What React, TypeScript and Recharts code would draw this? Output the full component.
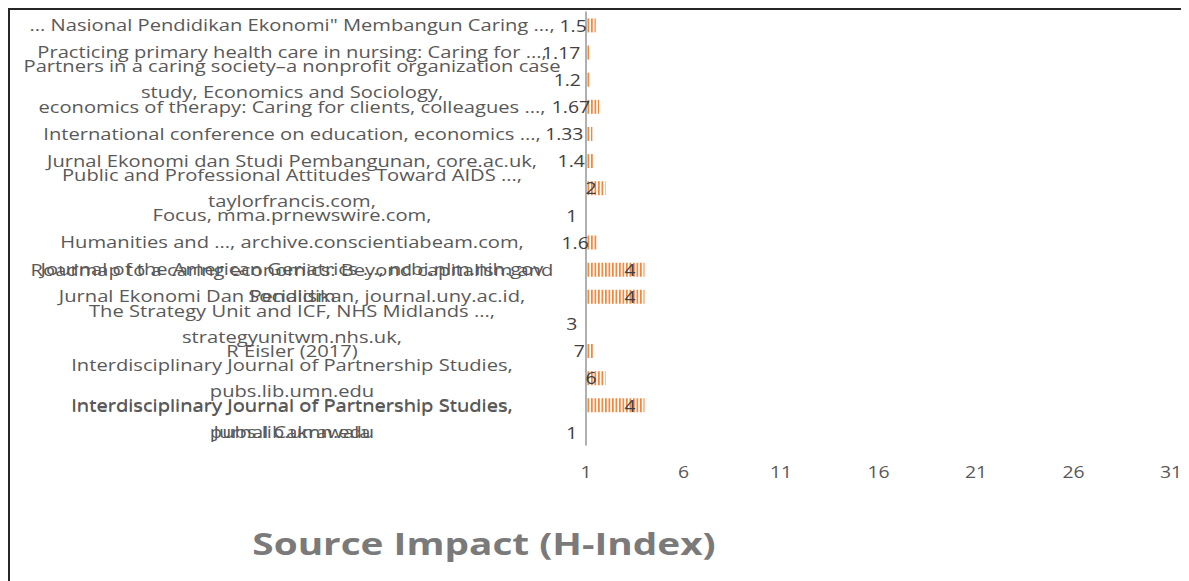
import React from 'react';
import { BarChart, Bar, XAxis, YAxis, LabelList } from 'recharts';

// ---------- data ----------
const categoryIds = ['c1', 'c2', 'c3', 'c4', 'c5', 'c6', 'c7', 'c8', 'c9', 'c10', 'c11', 'c12', 'c13', 'c14', 'c15', 'c16'];

const categoryLines: string[][] = [
  ['... Nasional Pendidikan Ekonomi" Membangun Caring ...,'],
  ['Practicing primary health care in nursing: Caring for ...,'],
  ['Partners in a caring society\u2013a nonprofit organization case', 'study, Economics and Sociology,'],
  ['economics of therapy: Caring for clients, colleagues ...,'],
  ['International conference on education, economics ...,'],
  ['Jurnal Ekonomi dan Studi Pembangunan, core.ac.uk,'],
  ['Public and Professional Attitudes Toward AIDS ...,', 'taylorfrancis.com,'],
  ['Focus, mma.prnewswire.com,'],
  ['Humanities and ..., archive.conscientiabeam.com,'],
  ['Journal of the American Geriatrics ..., ncbi.nlm.nih.gov'],
  ['Jurnal Ekonomi Dan Pendidikan, journal.uny.ac.id,'],
  ['The Strategy Unit and ICF, NHS Midlands ...,', 'strategyunitwm.nhs.uk,'],
  ['R Eisler (2017)'],
  ['Interdisciplinary Journal of Partnership Studies,', 'pubs.lib.umn.edu'],
  ['Interdisciplinary Journal of Partnership Studies,'],
  ['Jurnal Cakrawala'],
];

// labels that spill over between rows (row index they follow)
const overlapRows = [9, 14];
const overlapLines: string[][] = [
  ['Roadmap to a caring economics: Beyond capitalism and', 'Socialism'],
  ['Interdisciplinary Journal of Partnership Studies,', 'pubs.lib.umn.edu'],
];

const barValues = [1.5, 1.17, 1.2, 1.67, 1.33, 1.4, 2, 1, 1.6, 4, 4, 1, 1.4, 2, 4, 1];
const valueLabels = ['1.5', '1.17', '1.2', '1.67', '1.33', '1.4', '2', '1', '1.6', '4', '4', '3', '7', '6', '4', '1'];

const xTicks = [1, 6, 11, 16, 21, 26, 31];
const xDomain = [1, 31];
const chartTitle = 'Source Impact (H-Index)';

const data = categoryIds.map((id, i) => ({ id, value: barValues[i], label: valueLabels[i] }));

// ---------- layout ----------
const CHART_W = 1179;
const CHART_H = 563;
const MARGIN = { top: 1.4, right: 18, left: 0, bottom: 97.4 };
const X_AXIS_H = 30;
const Y_AXIS_W = 576;
const PLOT_H = CHART_H - MARGIN.top - MARGIN.bottom - X_AXIS_H;
const BAND = PLOT_H / categoryIds.length;
const LABEL_CENTER_OFFSET = 294;
const LINE_GAP = 26;
const STRETCH = 1.25;
const LABEL_STRETCH = 1.26;
const FONT = "'Open Sans', 'Noto Sans', sans-serif";
const TEXT_COLOR = '#595959';

const renderLines = (lines: string[], cx: number, cy: number, keyBase: string) =>
  lines.map((t, i) => (
    <text
      key={keyBase + i}
      x={0}
      y={0}
      transform={`translate(${cx},${cy + (i - (lines.length - 1) / 2) * LINE_GAP}) scale(${LABEL_STRETCH},1)`}
      textAnchor="middle"
      dominantBaseline="central"
      fill={TEXT_COLOR}
      fontSize={16}
      fontFamily={FONT}
    >
      {t}
    </text>
  ));

const CategoryTick = (props: any) => {
  const { x, y, payload } = props;
  const idx = categoryIds.indexOf(payload.value);
  const cx = x - LABEL_CENTER_OFFSET;
  const extraIdx = overlapRows.indexOf(idx);
  return (
    <g>
      {renderLines(categoryLines[idx], cx, y, 'p')}
      {extraIdx >= 0 ? renderLines(overlapLines[extraIdx], cx, y + BAND / 2, 'e') : null}
    </g>
  );
};

const NumberTick = (props: any) => {
  const { x, y, payload } = props;
  return (
    <text
      x={0}
      y={0}
      transform={`translate(${x},${y}) scale(${STRETCH},1)`}
      textAnchor="middle"
      dominantBaseline="central"
      fill={TEXT_COLOR}
      fontSize={15.5}
      fontFamily={FONT}
    >
      {payload.value}
    </text>
  );
};

const ValueLabel = (props: any) => {
  const { x, y, width, height, value } = props;
  return (
    <text
      x={0}
      y={0}
      transform={`translate(${Number(x) + Number(width) - 9},${Number(y) + Number(height) / 2}) scale(${STRETCH},1)`}
      textAnchor="end"
      dominantBaseline="central"
      fill="#404040"
      fontSize={15.5}
      fontFamily={FONT}
    >
      {value}
    </text>
  );
};

export default function App() {
  return (
    <div
      style={{
        position: 'relative',
        width: 1179,
        height: 571,
        borderTop: '2px solid #262626',
        borderLeft: '2px solid #262626',
        background: '#fff',
      }}
    >
      <style>{'body{overflow:hidden;}'}</style>
      <BarChart
        width={CHART_W}
        height={CHART_H}
        data={data}
        layout="vertical"
        margin={MARGIN}
      >
        <defs>
          <pattern id="vstripe" patternUnits="userSpaceOnUse" width={3.5} height={10}>
            <rect x={0} y={0} width={3.5} height={10} fill="#ffffff" />
            <rect x={0} y={0} width={1.7} height={10} fill="#F0863A" />
          </pattern>
        </defs>
        <XAxis
          type="number"
          domain={xDomain}
          ticks={xTicks}
          allowDataOverflow
          axisLine={false}
          tickLine={false}
          tickSize={0}
          height={X_AXIS_H}
          tickMargin={26}
          tick={<NumberTick />}
        />
        <YAxis
          type="category"
          dataKey="id"
          width={Y_AXIS_W}
          axisLine={{ stroke: '#b0b0b0', strokeWidth: 2 }}
          tickLine={false}
          tickSize={0}
          tickMargin={0}
          interval={0}
          tick={<CategoryTick />}
        />
        <Bar dataKey="value" barSize={14} minPointSize={0.4} fill="url(#vstripe)" isAnimationActive={false}>
          <LabelList dataKey="label" content={<ValueLabel />} />
        </Bar>
      </BarChart>
      <div
        style={{
          position: 'absolute',
          left: 224,
          width: 500,
          top: 513,
          height: 40,
          lineHeight: '40px',
          textAlign: 'center',
          fontFamily: FONT,
          fontWeight: 700,
          fontSize: 31,
          color: '#7a7a7a',
          transform: `scaleX(${STRETCH})`,
          transformOrigin: 'center',
        }}
      >
        {chartTitle}
      </div>
    </div>
  );
}
